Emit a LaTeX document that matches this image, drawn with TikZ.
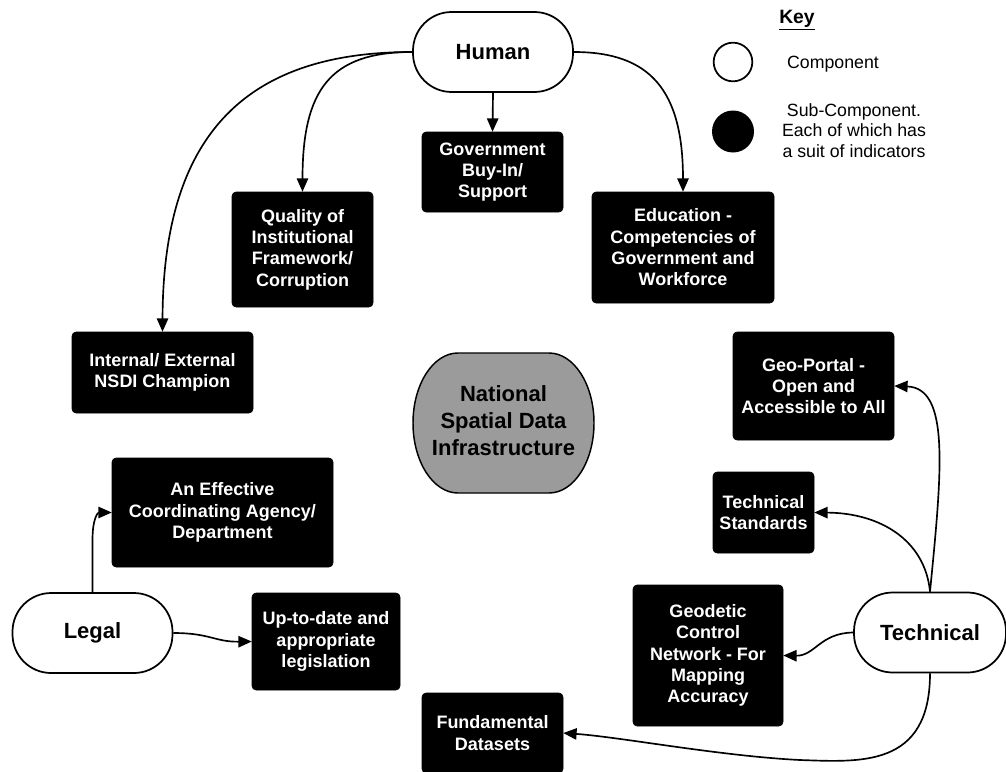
\documentclass[tikz,border=0pt]{standalone}
\usepackage{fontspec}
\setmainfont{Liberation Sans}
\usetikzlibrary{arrows.meta}
\definecolor{nsdigray}{RGB}{155,155,155}
\begin{document}
\begin{tikzpicture}[x=0.75pt,y=-0.75pt,
  subbox/.style={fill=black, draw=black, rounded corners=3pt, text=white,
    font=\fontsize{13.5}{16}\selectfont\bfseries, align=center, inner sep=0pt},
  comp/.style={draw=black, line width=1.3pt, fill=white, rounded corners=29pt,
    font=\fontsize{16.5}{20}\selectfont\bfseries, minimum height=60pt},
  conn/.style={line width=1.25pt, -{Triangle[length=10pt,width=8.5pt]}},
  keytext/.style={font=\fontsize{13.3}{15.4}\selectfont, align=center}
]
\clip (0,0) rectangle (1006,771);
\fill[white] (0,0) rectangle (1006,771);

% components
\node[comp, minimum width=120pt] (human) at (493,52) {Human};
\node[comp, minimum width=120pt] (legal) at (92.5,633) {Legal};
\node[comp, minimum width=114pt] (tech) at (930,632.5) {Technical};

% NSDI
\draw[line width=1.1pt, fill=nsdigray] (458,353) -- (549,353)
  arc[start angle=-90, end angle=90, x radius=45, y radius=70] -- (458,493)
  arc[start angle=90, end angle=270, x radius=45, y radius=70] -- cycle;
\node[font=\fontsize{16.5}{20.2}\selectfont\bfseries, align=center] (nsdi) at (503.5,421)
  {National\\Spatial Data\\Infrastructure};

% sub-components
\node[subbox, minimum width=105.75pt, minimum height=60pt] (gov) at (492.5,172) {Government\\Buy-In/\\Support};
\node[subbox, minimum width=105.75pt, minimum height=86.25pt] (qual) at (302.5,249.5) {Quality of\\Institutional\\Framework/\\Corruption};
\node[subbox, minimum width=135.75pt, minimum height=60.75pt] (inter) at (162.5,372.5) {Internal/ External\\NSDI Champion};
\node[subbox, minimum width=136.5pt, minimum height=83.25pt] (edu) at (683,247.5) {Education -\\Competencies of\\Government and\\Workforce};
\node[subbox, minimum width=165.75pt, minimum height=81.75pt] (coord) at (222.5,512.5) {An Effective\\Coordinating Agency/\\Department};
\node[subbox, minimum width=111pt, minimum height=72.75pt] (upto) at (326,641.5) {Up-to-date and\\appropriate\\legislation};
\node[subbox, minimum width=120.75pt, minimum height=81pt] (geop) at (813.5,386) {Geo-Portal -\\Open and\\Accessible to All};
\node[subbox, minimum width=75.75pt, minimum height=60.75pt] (tstd) at (763.5,512.5) {Technical\\Standards};
\node[subbox, minimum width=112.5pt, minimum height=105.75pt] (geod) at (708,655.5) {Geodetic\\Control\\Network - For\\Mapping\\Accuracy};
\node[subbox, minimum width=105.75pt, minimum height=60pt] (fund) at (492.5,733) {Fundamental\\Datasets};

% connectors
\draw[conn] (human.south) -- (gov.north);
\draw[conn] (human.west) .. controls (330,52) and (302.5,90) .. (qual.north);
\draw[conn] (human.west) .. controls (250,52) and (163,130) .. (inter.north);
\draw[conn] (human.east) .. controls (650,52) and (683,90) .. (edu.north);
\draw[conn] (legal.north) -- (92.5,540) .. controls (92.5,518) and (98,512.5) .. (coord.west);
\draw[conn] (legal.east) .. controls (210,633) and (215,642) .. (upto.west);
\draw[conn] (tech.north) .. controls (942,470) and (950,388) .. (geop.east);
\draw[conn] (tech.north) .. controls (925,540) and (880,513) .. (tstd.east);
\draw[conn] (tech.west) .. controls (820,633) and (815,656) .. (geod.east);
\draw[conn] (tech.south) .. controls (930,768) and (860,762) .. (800,760)
  .. controls (720,756) and (620,737) .. (fund.east);

% key
\node[font=\fontsize{14.5}{16}\selectfont\bfseries] (keyt) at (797,20) {\underline{Key}};
\node[circle, draw=black, line width=1.3pt, fill=white, minimum size=29pt, inner sep=0pt] (kc1) at (733,62) {};
\node[circle, fill=black, minimum size=31.5pt, inner sep=0pt] (kc2) at (733,131.5) {};
\node[keytext] (kt1) at (833,64) {Component};
\node[keytext] (kt2) at (854,130.5) {Sub-Component.\\Each of which has\\a suit of indicators};
\end{tikzpicture}
\end{document}
